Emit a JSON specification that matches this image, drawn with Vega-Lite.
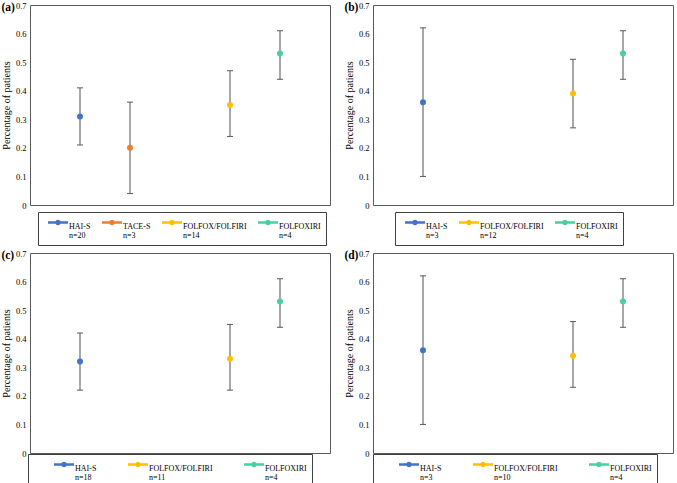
{
  "$schema": "https://vega.github.io/schema/vega-lite/v6.json",
  "background": "white",
  "padding": {"left": 0, "top": 0, "right": 2, "bottom": 0},
  "datasets": {
    "results": [
      {"panel": "a", "group": "HAI-S", "value": 0.31, "lower": 0.21, "upper": 0.41, "n": 20},
      {"panel": "a", "group": "TACE-S", "value": 0.20, "lower": 0.04, "upper": 0.36, "n": 3},
      {"panel": "a", "group": "FOLFOX/FOLFIRI", "value": 0.35, "lower": 0.24, "upper": 0.47, "n": 14},
      {"panel": "a", "group": "FOLFOXIRI", "value": 0.53, "lower": 0.44, "upper": 0.61, "n": 4},
      {"panel": "b", "group": "HAI-S", "value": 0.36, "lower": 0.10, "upper": 0.62, "n": 3},
      {"panel": "b", "group": "FOLFOX/FOLFIRI", "value": 0.39, "lower": 0.27, "upper": 0.51, "n": 12},
      {"panel": "b", "group": "FOLFOXIRI", "value": 0.53, "lower": 0.44, "upper": 0.61, "n": 4},
      {"panel": "c", "group": "HAI-S", "value": 0.32, "lower": 0.22, "upper": 0.42, "n": 18},
      {"panel": "c", "group": "FOLFOX/FOLFIRI", "value": 0.33, "lower": 0.22, "upper": 0.45, "n": 11},
      {"panel": "c", "group": "FOLFOXIRI", "value": 0.53, "lower": 0.44, "upper": 0.61, "n": 4},
      {"panel": "d", "group": "HAI-S", "value": 0.36, "lower": 0.10, "upper": 0.62, "n": 3},
      {"panel": "d", "group": "FOLFOX/FOLFIRI", "value": 0.34, "lower": 0.23, "upper": 0.46, "n": 10},
      {"panel": "d", "group": "FOLFOXIRI", "value": 0.53, "lower": 0.44, "upper": 0.61, "n": 4}
    ]
  },
  "config": {
    "font": "Liberation Serif",
    "view": {"stroke": "#595959", "strokeWidth": 1},
    "style": {"guide-label": {"lineHeight": 9}},
    "axis": {
      "labelFont": "Liberation Serif",
      "labelFontSize": 8.5,
      "labelColor": "#000000",
      "labelOverlap": false,
      "titleFont": "Liberation Serif",
      "titleFontSize": 10,
      "titleFontWeight": "normal",
      "titleColor": "#000000",
      "ticks": false,
      "domain": false,
      "grid": false,
      "labelPadding": 4,
      "titlePadding": 4
    },
    "legend": {
      "labelFont": "Liberation Serif",
      "labelFontSize": 8,
      "labelColor": "#000000",
      "strokeColor": "#404040",
      "padding": 5,
      "labelOffset": 1,
      "titleFontSize": 2,
      "titleOrient": "left"
    },
    "title": {
      "font": "Liberation Serif",
      "fontSize": 11.5,
      "fontWeight": "bold",
      "color": "#000000",
      "anchor": "start",
      "frame": "bounds",
      "offset": 0,
      "dy": 16,
      "dx": 0
    }
  },
  "resolve": {"scale": {"color": "independent"}, "legend": {"color": "independent"}},
  "bounds": "flush",
  "columns": 2,
  "spacing": {"row": 48, "column": 43},
  "concat": [
    {
      "title": "(a)",
      "width": 300,
      "height": 200,
      "data": {"name": "results"},
      "transform": [{"filter": "datum.panel == 'a'"}],
      "encoding": {
        "x": {"field": "group", "type": "nominal", "scale": {"type": "point", "domain": ["HAI-S", "TACE-S", " ", "FOLFOX/FOLFIRI", "FOLFOXIRI"], "padding": 1}, "axis": null}
      },
      "layer": [
        {
          "mark": {"type": "rule", "color": "#8a8a8a", "strokeWidth": 1.5},
          "encoding": {
            "y": {"field": "lower", "type": "quantitative", "title": "Percentage of patients", "scale": {"domain": [0, 0.7], "nice": false}, "axis": {"values": [0, 0.1, 0.2, 0.3, 0.4, 0.5, 0.6, 0.7], "tickCount": 8, "format": ".1~f", "labelOverlap": false}},
            "y2": {"field": "upper"}
          }
        },
        {
          "mark": {"type": "tick", "color": "#595959", "size": 6, "thickness": 1, "opacity": 1},
          "encoding": {"y": {"field": "lower", "type": "quantitative", "title": "Percentage of patients"}}
        },
        {
          "mark": {"type": "tick", "color": "#595959", "size": 6, "thickness": 1, "opacity": 1},
          "encoding": {"y": {"field": "upper", "type": "quantitative", "title": "Percentage of patients"}}
        },
        {
          "mark": {"type": "point", "filled": true, "opacity": 1, "size": 36},
          "encoding": {
            "y": {"field": "value", "type": "quantitative", "title": "Percentage of patients"},
            "color": {
              "field": "group", "type": "nominal",
              "scale": {"domain": ["HAI-S", "TACE-S", "FOLFOX/FOLFIRI", "FOLFOXIRI"], "range": ["#4472C4", "#ED7D31", "#FFC000", "#48D1A0"]},
              "legend": {
                "orient": "none", "legendX": 8, "legendY": 207, "direction": "horizontal", "title": " ", "titlePadding": 5,
                "symbolType": "M-1,-0.57H1V-0.33H-1Z M0.28,-0.45A0.28,0.28,0,1,1,-0.28,-0.45A0.28,0.28,0,1,1,0.28,-0.45Z",
                "symbolSize": 400, "symbolStrokeWidth": 0, "columnPadding": 11,
                "labelExpr": "[datum.label, datum.label == 'HAI-S' ? 'n=20' : datum.label == 'TACE-S' ? 'n=3' : datum.label == 'FOLFOX/FOLFIRI' ? 'n=14' : 'n=4']"
              }
            }
          }
        }
      ]
    },
    {
      "title": "(b)",
      "width": 300,
      "height": 200,
      "data": {"name": "results"},
      "transform": [{"filter": "datum.panel == 'b'"}],
      "encoding": {
        "x": {"field": "group", "type": "nominal", "scale": {"type": "point", "domain": ["HAI-S", "TACE-S", " ", "FOLFOX/FOLFIRI", "FOLFOXIRI"], "padding": 1}, "axis": null}
      },
      "layer": [
        {
          "mark": {"type": "rule", "color": "#8a8a8a", "strokeWidth": 1.5},
          "encoding": {
            "y": {"field": "lower", "type": "quantitative", "title": "Percentage of patients", "scale": {"domain": [0, 0.7], "nice": false}, "axis": {"values": [0, 0.1, 0.2, 0.3, 0.4, 0.5, 0.6, 0.7], "tickCount": 8, "format": ".1~f", "labelOverlap": false}},
            "y2": {"field": "upper"}
          }
        },
        {
          "mark": {"type": "tick", "color": "#595959", "size": 6, "thickness": 1, "opacity": 1},
          "encoding": {"y": {"field": "lower", "type": "quantitative", "title": "Percentage of patients"}}
        },
        {
          "mark": {"type": "tick", "color": "#595959", "size": 6, "thickness": 1, "opacity": 1},
          "encoding": {"y": {"field": "upper", "type": "quantitative", "title": "Percentage of patients"}}
        },
        {
          "mark": {"type": "point", "filled": true, "opacity": 1, "size": 36},
          "encoding": {
            "y": {"field": "value", "type": "quantitative", "title": "Percentage of patients"},
            "color": {
              "field": "group", "type": "nominal",
              "scale": {"domain": ["HAI-S", "FOLFOX/FOLFIRI", "FOLFOXIRI"], "range": ["#4472C4", "#FFC000", "#48D1A0"]},
              "legend": {
                "orient": "none", "legendX": 22, "legendY": 207, "direction": "horizontal", "title": " ", "titlePadding": 5,
                "symbolType": "M-1,-0.57H1V-0.33H-1Z M0.28,-0.45A0.28,0.28,0,1,1,-0.28,-0.45A0.28,0.28,0,1,1,0.28,-0.45Z",
                "symbolSize": 400, "symbolStrokeWidth": 0, "columnPadding": 11,
                "labelExpr": "[datum.label, datum.label == 'HAI-S' ? 'n=3' : datum.label == 'FOLFOX/FOLFIRI' ? 'n=12' : 'n=4']"
              }
            }
          }
        }
      ]
    },
    {
      "title": "(c)",
      "width": 300,
      "height": 200,
      "data": {"name": "results"},
      "transform": [{"filter": "datum.panel == 'c'"}],
      "encoding": {
        "x": {"field": "group", "type": "nominal", "scale": {"type": "point", "domain": ["HAI-S", "TACE-S", " ", "FOLFOX/FOLFIRI", "FOLFOXIRI"], "padding": 1}, "axis": null}
      },
      "layer": [
        {
          "mark": {"type": "rule", "color": "#8a8a8a", "strokeWidth": 1.5},
          "encoding": {
            "y": {"field": "lower", "type": "quantitative", "title": "Percentage of patients", "scale": {"domain": [0, 0.7], "nice": false}, "axis": {"values": [0, 0.1, 0.2, 0.3, 0.4, 0.5, 0.6, 0.7], "tickCount": 8, "format": ".1~f", "labelOverlap": false}},
            "y2": {"field": "upper"}
          }
        },
        {
          "mark": {"type": "tick", "color": "#595959", "size": 6, "thickness": 1, "opacity": 1},
          "encoding": {"y": {"field": "lower", "type": "quantitative", "title": "Percentage of patients"}}
        },
        {
          "mark": {"type": "tick", "color": "#595959", "size": 6, "thickness": 1, "opacity": 1},
          "encoding": {"y": {"field": "upper", "type": "quantitative", "title": "Percentage of patients"}}
        },
        {
          "mark": {"type": "point", "filled": true, "opacity": 1, "size": 36},
          "encoding": {
            "y": {"field": "value", "type": "quantitative", "title": "Percentage of patients"},
            "color": {
              "field": "group", "type": "nominal",
              "scale": {"domain": ["HAI-S", "FOLFOX/FOLFIRI", "FOLFOXIRI"], "range": ["#4472C4", "#FFC000", "#48D1A0"]},
              "legend": {
                "orient": "none", "legendX": -2, "legendY": 201, "direction": "horizontal", "title": " ", "titlePadding": 21,
                "symbolType": "M-1,-0.57H1V-0.33H-1Z M0.28,-0.45A0.28,0.28,0,1,1,-0.28,-0.45A0.28,0.28,0,1,1,0.28,-0.45Z",
                "symbolSize": 400, "symbolStrokeWidth": 0, "columnPadding": 31,
                "labelExpr": "[datum.label, datum.label == 'HAI-S' ? 'n=18' : datum.label == 'FOLFOX/FOLFIRI' ? 'n=11' : 'n=4']"
              }
            }
          }
        }
      ]
    },
    {
      "title": "(d)",
      "width": 300,
      "height": 200,
      "data": {"name": "results"},
      "transform": [{"filter": "datum.panel == 'd'"}],
      "encoding": {
        "x": {"field": "group", "type": "nominal", "scale": {"type": "point", "domain": ["HAI-S", "TACE-S", " ", "FOLFOX/FOLFIRI", "FOLFOXIRI"], "padding": 1}, "axis": null}
      },
      "layer": [
        {
          "mark": {"type": "rule", "color": "#8a8a8a", "strokeWidth": 1.5},
          "encoding": {
            "y": {"field": "lower", "type": "quantitative", "title": "Percentage of patients", "scale": {"domain": [0, 0.7], "nice": false}, "axis": {"values": [0, 0.1, 0.2, 0.3, 0.4, 0.5, 0.6, 0.7], "tickCount": 8, "format": ".1~f", "labelOverlap": false}},
            "y2": {"field": "upper"}
          }
        },
        {
          "mark": {"type": "tick", "color": "#595959", "size": 6, "thickness": 1, "opacity": 1},
          "encoding": {"y": {"field": "lower", "type": "quantitative", "title": "Percentage of patients"}}
        },
        {
          "mark": {"type": "tick", "color": "#595959", "size": 6, "thickness": 1, "opacity": 1},
          "encoding": {"y": {"field": "upper", "type": "quantitative", "title": "Percentage of patients"}}
        },
        {
          "mark": {"type": "point", "filled": true, "opacity": 1, "size": 36},
          "encoding": {
            "y": {"field": "value", "type": "quantitative", "title": "Percentage of patients"},
            "color": {
              "field": "group", "type": "nominal",
              "scale": {"domain": ["HAI-S", "FOLFOX/FOLFIRI", "FOLFOXIRI"], "range": ["#4472C4", "#FFC000", "#48D1A0"]},
              "legend": {
                "orient": "none", "legendX": 0, "legendY": 201, "direction": "horizontal", "title": " ", "titlePadding": 21,
                "symbolType": "M-1,-0.57H1V-0.33H-1Z M0.28,-0.45A0.28,0.28,0,1,1,-0.28,-0.45A0.28,0.28,0,1,1,0.28,-0.45Z",
                "symbolSize": 400, "symbolStrokeWidth": 0, "columnPadding": 31,
                "labelExpr": "[datum.label, datum.label == 'HAI-S' ? 'n=3' : datum.label == 'FOLFOX/FOLFIRI' ? 'n=10' : 'n=4']"
              }
            }
          }
        }
      ]
    }
  ]
}
